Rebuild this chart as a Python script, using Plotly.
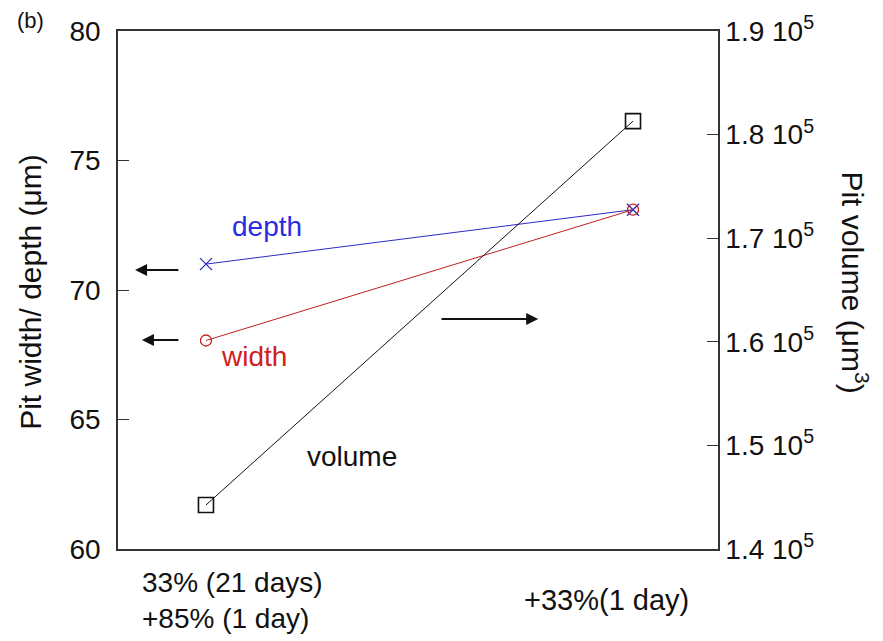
import plotly.graph_objects as go

# data
categories = [0, 1]
category_labels = ["33% (21 days)<br>+85% (1 day)", "+33%(1 day)"]
depth = [71, 73.1]
width = [68.05, 73.1]
volume = [1.4425e5, 1.813e5]
left_ticks = [60, 65, 70, 75, 80]
right_tickvals = [1.4e5, 1.5e5, 1.6e5, 1.7e5, 1.8e5, 1.9e5]
right_ticktext = ["1.4 10<sup>5</sup>", "1.5 10<sup>5</sup>", "1.6 10<sup>5</sup>",
                  "1.7 10<sup>5</sup>", "1.8 10<sup>5</sup>", "1.9 10<sup>5</sup>"]

FONT = "Liberation Sans, Arial, sans-serif"
fig = go.Figure()
fig.add_trace(go.Scatter(x=categories, y=depth, mode="lines+markers",
                         line=dict(color="#2b2bbf", width=1),
                         marker=dict(symbol="x-thin-open", size=12, color="#2b2bbf",
                                     line=dict(color="#2b2bbf", width=1.3)),
                         showlegend=False))
fig.add_trace(go.Scatter(x=categories, y=width, mode="lines+markers",
                         line=dict(color="#c02020", width=1),
                         marker=dict(symbol="circle-open", size=11, color="#c02020",
                                     line=dict(color="#c02020", width=1.3)),
                         showlegend=False))
fig.add_trace(go.Scatter(x=categories, y=volume, mode="lines+markers", yaxis="y2",
                         line=dict(color="#111111", width=1),
                         marker=dict(symbol="square-open", size=15, color="#111111",
                                     line=dict(color="#111111", width=1.6)),
                         showlegend=False))

fig.update_layout(
    width=875, height=633,
    margin=dict(l=110, r=165, t=23, b=92),
    paper_bgcolor="white", plot_bgcolor="white",
    font=dict(family=FONT, color="#111111"),
    xaxis=dict(range=[-0.206, 1.199], showticklabels=False, ticks="",
               showgrid=False, zeroline=False, showline=True, mirror=True,
               linecolor="#333333", linewidth=1.5, automargin=False),
    yaxis=dict(range=[60, 80], tickvals=left_ticks, ticks="inside", ticklen=11,
               tickcolor="#333333", tickfont=dict(size=28, family=FONT),
               showgrid=False, zeroline=False, showline=True, linecolor="#333333",
               linewidth=1.5, ticklabelstandoff=10, automargin=False),
    yaxis2=dict(range=[1.4e5, 1.9e5], overlaying="y", side="right",
                tickvals=right_tickvals, ticktext=right_ticktext,
                ticks="inside", ticklen=11, tickcolor="#333333",
                tickfont=dict(size=28, family=FONT), showgrid=False, zeroline=False,
                showline=True, linecolor="#333333", linewidth=1.5, automargin=False),
)

ann = []
# x category labels
ann.append(dict(x=-0.155, y=-0.1, xref="x", yref="paper", text=category_labels[0],
                showarrow=False, xanchor="left", yanchor="middle", align="left",
                font=dict(size=28, family=FONT, color="#111111")))
ann.append(dict(x=0.937, y=-0.098, xref="x", yref="paper", text=category_labels[1],
                showarrow=False, xanchor="center", yanchor="middle",
                font=dict(size=29, family=FONT, color="#111111")))
# series labels
ann.append(dict(x=0.143, y=72.47, xref="x", yref="y", text="depth", showarrow=False,
                font=dict(size=28, family=FONT, color="#2b2bdf")))
ann.append(dict(x=0.112, y=67.45, xref="x", yref="y", text="width", showarrow=False,
                font=dict(size=28, family=FONT, color="#d02020")))
ann.append(dict(x=0.342, y=63.59, xref="x", yref="y", text="volume", showarrow=False,
                font=dict(size=28, family=FONT, color="#111111")))
# arrows
for (x0, x1, yv) in [(-0.061, -0.166, 70.77), (-0.061, -0.150, 68.07), (0.548, 0.778, 68.88)]:
    ann.append(dict(x=x1, y=yv, ax=x0, ay=yv, xref="x", yref="y", axref="x", ayref="y",
                    text="", showarrow=True, arrowhead=2, arrowsize=1.2, arrowwidth=2,
                    arrowcolor="#111111"))
# axis titles
ann.append(dict(x=-0.147, y=0.496, xref="paper", yref="paper", text="Pit width/ depth (μm)",
                showarrow=False, textangle=-90, xanchor="center", yanchor="middle",
                font=dict(size=30, family=FONT, color="#111111")))
ann.append(dict(x=1.228, y=0.515, xref="paper", yref="paper", text="Pit volume (μm<sup>3</sup>)",
                showarrow=False, textangle=90, xanchor="center", yanchor="middle",
                font=dict(size=30, family=FONT, color="#111111")))
# panel label
ann.append(dict(x=-0.172, y=1.021, xref="paper", yref="paper", text="(b)", showarrow=False,
                xanchor="left", yanchor="middle", font=dict(size=22, family=FONT, color="#111111")))
fig.update_layout(annotations=ann)

fig.write_html("out.html")
